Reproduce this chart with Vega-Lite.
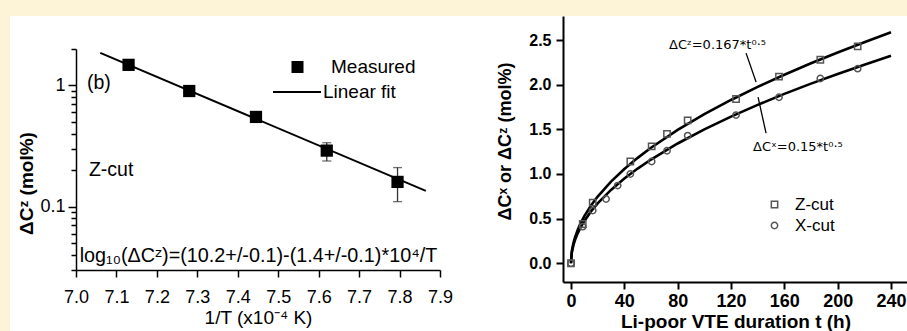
{
  "$schema": "https://vega.github.io/schema/vega-lite/v6.json",
  "background": "white",
  "padding": 0,
  "spacing": 0,
  "config": {
    "font": "Liberation Sans",
    "view": {"stroke": null},
    "axis": {"grid": false, "domainColor": "black", "tickColor": "black", "labelColor": "black", "titleColor": "black", "labelFont": "Liberation Sans", "titleFont": "Liberation Sans", "labelFlush": false, "labelOverlap": false, "labelBound": false},
    "legend": {"labelFont": "Liberation Sans", "labelColor": "black", "padding": 0},
    "text": {"font": "Liberation Sans"}
  },
  "datasets": {
    "margin": [{"part": "page margin"}],
    "fit": [{"invT": 7.06, "dC": 1.86, "fit": "Linear fit"}, {"invT": 7.865, "dC": 0.135, "fit": "Linear fit"}],
    "measured": [
      {"invT": 7.13, "dC": 1.48, "lo": 1.44, "hi": 1.52, "series": "Measured"},
      {"invT": 7.28, "dC": 0.9, "lo": 0.875, "hi": 0.925, "series": "Measured"},
      {"invT": 7.445, "dC": 0.55, "lo": 0.535, "hi": 0.565, "series": "Measured"},
      {"invT": 7.62, "dC": 0.29, "lo": 0.238, "hi": 0.337, "series": "Measured"},
      {"invT": 7.795, "dC": 0.16, "lo": 0.11, "hi": 0.21, "series": "Measured"}
    ],
    "leftnotes": [
      {"invT": 7.027, "dC": 1.05, "label": "(b)"},
      {"invT": 7.032, "dC": 0.2, "label": "Z-cut"}
    ],
    "formula": [
      {"invT": 7.009, "dC": 0.0389, "label": "log₁₀(ΔCᶻ)=(10.2+/-0.1)-(1.4+/-0.1)*10⁴/T"}
    ],
    "curves": [
      {"t": 0, "v": 0, "cut": "Z-cut"}, {"t": 0.5, "v": 0.1181, "cut": "Z-cut"}, {"t": 1, "v": 0.167, "cut": "Z-cut"}, {"t": 2, "v": 0.2362, "cut": "Z-cut"}, {"t": 3, "v": 0.2893, "cut": "Z-cut"}, {"t": 5, "v": 0.3734, "cut": "Z-cut"}, {"t": 7, "v": 0.4418, "cut": "Z-cut"}, {"t": 10, "v": 0.5281, "cut": "Z-cut"}, {"t": 15, "v": 0.6468, "cut": "Z-cut"}, {"t": 20, "v": 0.7468, "cut": "Z-cut"}, {"t": 30, "v": 0.9147, "cut": "Z-cut"}, {"t": 40, "v": 1.0562, "cut": "Z-cut"}, {"t": 50, "v": 1.1809, "cut": "Z-cut"}, {"t": 60, "v": 1.2936, "cut": "Z-cut"}, {"t": 80, "v": 1.4937, "cut": "Z-cut"}, {"t": 100, "v": 1.67, "cut": "Z-cut"}, {"t": 120, "v": 1.8293, "cut": "Z-cut"}, {"t": 140, "v": 1.9759, "cut": "Z-cut"}, {"t": 160, "v": 2.1124, "cut": "Z-cut"}, {"t": 180, "v": 2.2405, "cut": "Z-cut"}, {"t": 200, "v": 2.3617, "cut": "Z-cut"}, {"t": 220, "v": 2.4769, "cut": "Z-cut"}, {"t": 240, "v": 2.5872, "cut": "Z-cut"},
      {"t": 0, "v": 0, "cut": "X-cut"}, {"t": 0.5, "v": 0.1061, "cut": "X-cut"}, {"t": 1, "v": 0.15, "cut": "X-cut"}, {"t": 2, "v": 0.2121, "cut": "X-cut"}, {"t": 3, "v": 0.2598, "cut": "X-cut"}, {"t": 5, "v": 0.3354, "cut": "X-cut"}, {"t": 7, "v": 0.3969, "cut": "X-cut"}, {"t": 10, "v": 0.4743, "cut": "X-cut"}, {"t": 15, "v": 0.581, "cut": "X-cut"}, {"t": 20, "v": 0.6708, "cut": "X-cut"}, {"t": 30, "v": 0.8216, "cut": "X-cut"}, {"t": 40, "v": 0.9487, "cut": "X-cut"}, {"t": 50, "v": 1.0607, "cut": "X-cut"}, {"t": 60, "v": 1.1619, "cut": "X-cut"}, {"t": 80, "v": 1.3416, "cut": "X-cut"}, {"t": 100, "v": 1.5, "cut": "X-cut"}, {"t": 120, "v": 1.6432, "cut": "X-cut"}, {"t": 140, "v": 1.7748, "cut": "X-cut"}, {"t": 160, "v": 1.8974, "cut": "X-cut"}, {"t": 180, "v": 2.0125, "cut": "X-cut"}, {"t": 200, "v": 2.1213, "cut": "X-cut"}, {"t": 220, "v": 2.2249, "cut": "X-cut"}, {"t": 240, "v": 2.3238, "cut": "X-cut"}
    ],
    "rmeas": [
      {"t": 0, "v": 0, "cut": "Z-cut"}, {"t": 8.8, "v": 0.44, "cut": "Z-cut"}, {"t": 16.3, "v": 0.68, "cut": "Z-cut"}, {"t": 44.5, "v": 1.14, "cut": "Z-cut"}, {"t": 60.5, "v": 1.31, "cut": "Z-cut"}, {"t": 72, "v": 1.45, "cut": "Z-cut"}, {"t": 87.5, "v": 1.6, "cut": "Z-cut"}, {"t": 123.8, "v": 1.84, "cut": "Z-cut"}, {"t": 156, "v": 2.09, "cut": "Z-cut"}, {"t": 187, "v": 2.28, "cut": "Z-cut"}, {"t": 215, "v": 2.43, "cut": "Z-cut"},
      {"t": 0, "v": 0, "cut": "X-cut"}, {"t": 8.8, "v": 0.41, "cut": "X-cut"}, {"t": 16.3, "v": 0.59, "cut": "X-cut"}, {"t": 26.3, "v": 0.72, "cut": "X-cut"}, {"t": 35, "v": 0.87, "cut": "X-cut"}, {"t": 44.5, "v": 1.0, "cut": "X-cut"}, {"t": 60.5, "v": 1.14, "cut": "X-cut"}, {"t": 72, "v": 1.26, "cut": "X-cut"}, {"t": 87.5, "v": 1.43, "cut": "X-cut"}, {"t": 123.8, "v": 1.66, "cut": "X-cut"}, {"t": 156, "v": 1.86, "cut": "X-cut"}, {"t": 187, "v": 2.07, "cut": "X-cut"}, {"t": 215, "v": 2.18, "cut": "X-cut"}
    ],
    "arrows": [
      {"t": 131.3, "v": 2.354, "t2": 138.8, "v2": 2.03},
      {"t": 140.3, "v": 1.86, "t2": 146.3, "v2": 1.457}
    ],
    "rnotes": [
      {"t": 73.5, "v": 2.44, "label": "ΔCᶻ=0.167*t⁰·⁵"},
      {"t": 136.5, "v": 1.3, "label": "ΔCˣ=0.15*t⁰·⁵"}
    ]
  },
  "resolve": {"scale": {"shape": "independent", "color": "independent", "x": "independent", "y": "independent"}, "legend": {"shape": "independent", "color": "independent"}},
  "vconcat": [
    {
      "width": 907, "height": 16,
      "data": {"name": "margin"},
      "mark": {"type": "rect", "color": "#FDF3D6", "strokeWidth": 0},
      "encoding": {
        "x": {"datum": 0, "type": "quantitative", "scale": {"domain": [0, 1], "nice": false, "zero": false}, "axis": null},
        "x2": {"datum": 1},
        "y": {"datum": 0, "type": "quantitative", "scale": {"domain": [0, 1], "nice": false, "zero": false}, "axis": null},
        "y2": {"datum": 1}
      }
    },
    {
      "spacing": 43,
      "resolve": {"scale": {"shape": "independent", "color": "independent"}, "legend": {"shape": "independent", "color": "independent"}},
      "hconcat": [
        {
          "spacing": 7,
          "resolve": {"scale": {"shape": "independent", "color": "independent"}, "legend": {"shape": "independent", "color": "independent"}},
          "hconcat": [
            {
              "width": 10, "height": 315,
              "data": {"name": "margin"},
              "mark": {"type": "rect", "color": "#FDF3D6", "strokeWidth": 0},
              "encoding": {
                "x": {"datum": 0, "type": "quantitative", "scale": {"domain": [0, 1], "nice": false, "zero": false}, "axis": null},
                "x2": {"datum": 1},
                "y": {"datum": 0, "type": "quantitative", "scale": {"domain": [0, 1], "nice": false, "zero": false}, "axis": null},
                "y2": {"datum": 1}
              }
            },
            {
              "spacing": 0,
              "resolve": {"scale": {"shape": "independent", "color": "independent"}, "legend": {"shape": "independent", "color": "independent"}},
              "vconcat": [
                {"width": 1, "height": 23.5, "data": {"values": []}, "mark": "point"},
                {
                  "width": 364,
                  "height": 221,
                  "layer": [
                    {
                      "data": {"name": "fit"},
                      "mark": {"type": "line", "strokeWidth": 2},
                      "encoding": {
                        "x": {"field": "invT", "type": "quantitative", "title": "1/T (x10⁻⁴ K)", "scale": {"domain": [7.0, 7.9], "nice": false, "zero": false},
                          "axis": {"values": [7.0, 7.05, 7.1, 7.15, 7.2, 7.25, 7.3, 7.35, 7.4, 7.45, 7.5, 7.55, 7.6, 7.65, 7.7, 7.75, 7.8, 7.85, 7.9],
                            "labelExpr": "abs(datum.value*10 - round(datum.value*10)) < 0.001 ? format(datum.value, '.1f') : ''",
                            "tickSize": {"condition": {"test": "abs(datum.value*10 - round(datum.value*10)) < 0.001", "value": 7}, "value": 4},
                            "labelFontSize": 18, "labelPadding": 11, "titleFontSize": 19, "titleFontWeight": "normal", "titlePadding": 2, "domainWidth": 1.5, "tickWidth": 1.5}},
                        "y": {"field": "dC", "type": "quantitative", "title": "ΔCᶻ (mol%)", "scale": {"type": "log", "domain": [0.03, 2], "nice": false},
                          "axis": {"values": [0.03, 0.04, 0.05, 0.06, 0.07, 0.08, 0.09, 0.1, 0.2, 0.3, 0.4, 0.5, 0.6, 0.7, 0.8, 0.9, 1, 2],
                            "labelExpr": "datum.value == 1 ? '1' : (datum.value == 0.1 ? '0.1' : '')",
                            "tickSize": {"condition": {"test": "datum.value == 1 || datum.value == 0.1", "value": 8}, "value": 5},
                            "labelFontSize": 18, "labelPadding": 3, "titleFontSize": 19, "titleFontWeight": "bold", "titlePadding": 3, "titleY": 134, "domainWidth": 1.5, "tickWidth": 1.5}},
                        "color": {"field": "fit", "type": "nominal", "scale": {"domain": ["Linear fit"], "range": ["black"]},
                          "legend": {"title": null, "orient": "none", "legendX": 196, "legendY": 18, "labelFontSize": 19, "labelOffset": 1, "symbolSize": 2304, "symbolStrokeWidth": 2, "symbolType": "stroke"}}
                      }
                    },
                    {
                      "data": {"name": "measured"},
                      "mark": {"type": "errorbar", "ticks": {"size": 9}, "color": "#333", "thickness": 1.3},
                      "encoding": {
                        "x": {"field": "invT", "type": "quantitative", "title": "1/T (x10⁻⁴ K)"},
                        "y": {"field": "lo", "type": "quantitative", "title": "ΔCᶻ (mol%)"},
                        "y2": {"field": "hi"}
                      }
                    },
                    {
                      "data": {"name": "measured"},
                      "mark": {"type": "point", "filled": true, "color": "black", "opacity": 1, "size": 150},
                      "encoding": {
                        "x": {"field": "invT", "type": "quantitative", "title": "1/T (x10⁻⁴ K)"},
                        "y": {"field": "dC", "type": "quantitative", "title": "ΔCᶻ (mol%)"},
                        "shape": {"field": "series", "type": "nominal", "scale": {"domain": ["Measured"], "range": ["square"]},
                          "legend": {"title": null, "orient": "none", "legendX": 212, "legendY": 8.5, "labelFontSize": 19, "labelOffset": 24, "symbolSize": 144, "symbolFillColor": "black"}}
                      }
                    },
                    {
                      "data": {"name": "leftnotes"},
                      "mark": {"type": "text", "align": "left", "baseline": "middle", "fontSize": 19.5, "color": "black"},
                      "encoding": {
                        "x": {"field": "invT", "type": "quantitative"},
                        "y": {"field": "dC", "type": "quantitative"},
                        "text": {"field": "label"}
                      }
                    },
                    {
                      "data": {"name": "formula"},
                      "mark": {"type": "text", "align": "left", "baseline": "middle", "fontSize": 19.8, "color": "black"},
                      "encoding": {
                        "x": {"field": "invT", "type": "quantitative"},
                        "y": {"field": "dC", "type": "quantitative"},
                        "text": {"field": "label"}
                      }
                    }
                  ]
                }
              ]
            }
          ]
        },
        {
          "width": 345,
          "height": 266,
          "layer": [
            {
              "data": {"name": "curves"},
              "mark": {"type": "line", "color": "black", "strokeWidth": 2.6},
              "encoding": {
                "x": {"field": "t", "type": "quantitative", "title": "Li-poor VTE duration t (h)", "scale": {"domain": [-6, 252.75], "nice": false, "zero": false},
                  "axis": {"values": [0, 20, 40, 60, 80, 100, 120, 140, 160, 180, 200, 220, 240],
                    "labelExpr": "datum.value % 40 == 0 ? format(datum.value, 'd') : ''",
                    "tickSize": {"condition": {"test": "datum.value % 40 == 0", "value": 7}, "value": 4},
                    "labelFontSize": 18, "labelFontWeight": "bold", "labelPadding": 3, "titleFontSize": 19, "titleFontWeight": "bold", "titlePadding": 2, "domainWidth": 2, "tickWidth": 2}},
                "y": {"field": "v", "type": "quantitative", "title": "ΔCˣ or ΔCᶻ (mol%)", "scale": {"domain": [-0.21, 2.77], "nice": false, "zero": false},
                  "axis": {"values": [0, 0.25, 0.5, 0.75, 1, 1.25, 1.5, 1.75, 2, 2.25, 2.5, 2.75],
                    "labelExpr": "abs(datum.value*2 - round(datum.value*2)) < 0.001 ? format(datum.value, '.1f') : ''",
                    "tickSize": {"condition": {"test": "abs(datum.value*2 - round(datum.value*2)) < 0.001", "value": 7}, "value": 4},
                    "labelFontSize": 16, "labelFontWeight": "bold", "labelPadding": 5, "titleFontSize": 18, "titleFontWeight": "bold", "titlePadding": 14, "titleY": 125, "domainWidth": 2, "tickWidth": 2}},
                "detail": {"field": "cut", "type": "nominal"}
              }
            },
            {
              "data": {"name": "arrows"},
              "mark": {"type": "rule", "color": "black", "strokeWidth": 1.3},
              "encoding": {
                "x": {"field": "t", "type": "quantitative"},
                "y": {"field": "v", "type": "quantitative"},
                "x2": {"field": "t2"},
                "y2": {"field": "v2"}
              }
            },
            {
              "data": {"name": "rmeas"},
              "mark": {"type": "point", "filled": false, "color": "#555", "size": 40, "strokeWidth": 1.5, "opacity": 1},
              "encoding": {
                "x": {"field": "t", "type": "quantitative"},
                "y": {"field": "v", "type": "quantitative"},
                "shape": {"field": "cut", "type": "nominal", "scale": {"domain": ["Z-cut", "X-cut"], "range": ["square", "circle"]},
                  "legend": {"title": null, "orient": "none", "legendX": 203, "legendY": 180, "labelFontSize": 17, "labelOffset": 12, "rowPadding": 3, "symbolSize": 40, "symbolStrokeWidth": 1.5, "symbolStrokeColor": "#555"}}
              }
            },
            {
              "data": {"name": "rnotes"},
              "mark": {"type": "text", "align": "left", "baseline": "middle", "fontSize": 13, "font": "DejaVu Sans", "color": "black"},
              "encoding": {
                "x": {"field": "t", "type": "quantitative"},
                "y": {"field": "v", "type": "quantitative"},
                "text": {"field": "label"}
              }
            }
          ]
        }
      ]
    }
  ]
}
